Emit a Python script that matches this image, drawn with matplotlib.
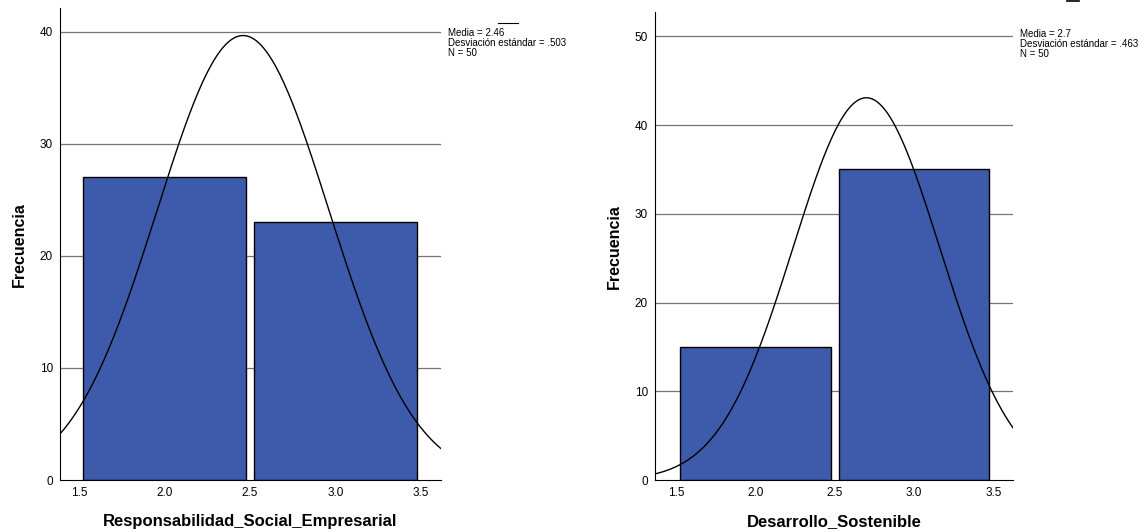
import numpy as np
import matplotlib.pyplot as plt

plt.rcParams['font.family'] = ['Liberation Sans', 'DejaVu Sans']

# Data
rse_bins = [2.0, 3.0]
rse_freq = [27, 23]
rse_mean, rse_sd, rse_n = 2.46, 0.503, 50

ds_bins = [2.0, 3.0]
ds_freq = [15, 35]
ds_mean, ds_sd, ds_n = 2.7, 0.463, 50

bar_color = '#3E5AAA'

fig = plt.figure(figsize=(11.45, 5.32), dpi=100)
ax1 = fig.add_axes([0.0524, 0.0977, 0.3326, 0.887])
ax2 = fig.add_axes([0.572, 0.0977, 0.313, 0.879])


def draw_hist(ax, bins, freq, mean, sd, n, xlim, ylim, yticks, xlabel):
    ax.bar(bins, freq, width=0.95, color=bar_color, edgecolor='black', linewidth=1, zorder=2)
    for t in yticks[1:]:
        ax.axhline(t, color='#757575', linewidth=0.9, zorder=1)
    # normal curve scaled to counts (bin width 1)
    x = np.linspace(xlim[0], xlim[1], 300)
    y = n * 1.0 / (sd * np.sqrt(2 * np.pi)) * np.exp(-0.5 * ((x - mean) / sd) ** 2)
    ax.plot(x, y, color='black', linewidth=1, zorder=3)
    ax.set_xlim(*xlim)
    ax.set_ylim(*ylim)
    ax.set_yticks(yticks)
    ax.set_xticks([1.5, 2.0, 2.5, 3.0, 3.5])
    ax.set_xticklabels(['1.5', '2.0', '2.5', '3.0', '3.5'])
    ax.tick_params(length=0, labelsize=8.5, pad=5)
    for s in ['top', 'right']:
        ax.spines[s].set_visible(False)
    ax.set_ylabel('Frecuencia', fontsize=11.5, fontweight='bold', labelpad=9)
    ax.set_xlabel(xlabel, fontsize=12, fontweight='bold', labelpad=11)


draw_hist(ax1, rse_bins, rse_freq, rse_mean, rse_sd, rse_n,
          (1.389, 3.617), (0, 42.1), [0, 10, 20, 30, 40],
          'Responsabilidad_Social_Empresarial')
draw_hist(ax2, ds_bins, ds_freq, ds_mean, ds_sd, ds_n,
          (1.368, 3.626), (0, 52.7), [0, 10, 20, 30, 40, 50],
          'Desarrollo_Sostenible')

# statistics text to the right of each plot
fig.text(448 / 1145, 1 - 28 / 532,
         'Media = %.2f\nDesviación estándar = .503\nN = %d' % (rse_mean, rse_n),
         fontsize=7, va='top', ha='left', linespacing=1.0)
fig.text(1020 / 1145, 1 - 29 / 532,
         'Media = %.1f\nDesviación estándar = .463\nN = %d' % (ds_mean, ds_n),
         fontsize=7, va='top', ha='left', linespacing=1.0)
# small legend line marks
fig.add_artist(plt.Line2D([498 / 1145, 518 / 1145], [1 - 23 / 532] * 2, color='black', linewidth=0.8))
fig.add_artist(plt.Line2D([1067 / 1145, 1079 / 1145], [1 - 1 / 532] * 2, color='black', linewidth=1.2))

fig.savefig('out.png', dpi=100)
